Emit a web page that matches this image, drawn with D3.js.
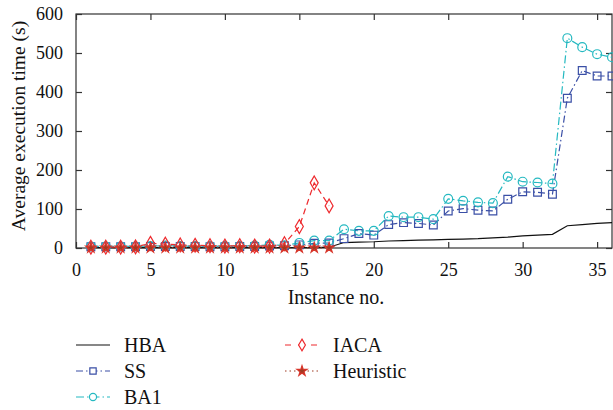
<!DOCTYPE html>
<html>
<head>
<meta charset="utf-8">
<script src="https://cdnjs.cloudflare.com/ajax/libs/d3/7.8.5/d3.min.js"></script>
<style>
  body { margin: 0; background: #fff; }
</style>
</head>
<body>
<div id="chart"></div>
<script>
// instances 1..36
var instances = d3.range(1, 37);

var hba = [1,1,1,1,1,1,1,1,1,1,1,1,1,1,1,1,2,
           14,15,16,18,19,20,21,22,23,24,26,28,31,33,35,57,60,63,65];
var ss = [3,3,3,3,4,4,4,4,3,3,4,4,5,6,8,12,13,
          24,37,33,60,65,63,59,95,101,97,95,125,144,143,138,384,455,441,441];
var ba1 = [4,4,4,4,5,6,5,5,5,5,5,6,8,7,13,19,19,
           48,44,44,82,79,79,74,126,121,117,115,183,170,168,165,538,515,497,489];
var iaca = [2,2,2,3,12,10,8,7,6,5,6,5,5,11,55,167,108];
var heuristic = [0.5,0.5,0.5,0.5,0.5,0.5,0.5,0.5,0.5,0.5,0.5,0.5,0.5,0.5,0.5,0.5,0.5];

var xTicks = [0,5,10,15,20,25,30,35];
var yTicks = [0,100,200,300,400,500,600];

var serif = '"Liberation Serif", "Times New Roman", serif';

var svgWidth = 613;
var svgHeight = 410;
var margin = {top: 14, right: 1, bottom: 162, left: 76};
var chartWidth = svgWidth - margin.left - margin.right;
var chartHeight = svgHeight - margin.top - margin.bottom;

var svg = d3.select("#chart").append("svg")
    .attr("width", svgWidth)
    .attr("height", svgHeight)
    .style("font-family", serif);

var chartGroup = svg.append("g").attr("transform", `translate(${margin.left}, ${margin.top})`);

var x = d3.scaleLinear().domain([0, 36]).range([0, chartWidth]);
var y = d3.scaleLinear().domain([0, 600]).range([chartHeight, 0]);

// series definitions
var series = [
  {name: "HBA", values: hba, color: "#111", dash: null, symbol: null},
  {name: "SS", values: ss, color: "#3a4fa6", dash: "7,3,1.5,3", symbol: d3.symbolSquare, size: 60},
  {name: "BA1", values: ba1, color: "#25b9c1", dash: "8,3,1.5,3", symbol: d3.symbolCircle, size: 62},
  {name: "IACA", values: iaca, color: "#ee2a2e", dash: "6,4", symbol: d3.symbolDiamond, size: 55},
  {name: "Heuristic", values: heuristic, color: "#9e3b22", dash: "1.5,3", symbol: d3.symbolStar, size: 32}
];

// frame
chartGroup.append("rect")
    .attr("width", chartWidth).attr("height", chartHeight)
    .attr("fill", "none").attr("stroke", "#333").attr("stroke-width", 1.2);

// axes with inward ticks
var bottomAxis = d3.axisBottom(x).tickValues(xTicks).tickSizeInner(-6).tickSizeOuter(0).tickPadding(15);
var leftAxis = d3.axisLeft(y).tickValues(yTicks).tickSizeInner(-6).tickSizeOuter(0).tickPadding(13);
var topAxis = d3.axisTop(x).tickValues(xTicks).tickSizeInner(-6).tickSizeOuter(0).tickFormat("");
var rightAxis = d3.axisRight(y).tickValues(yTicks).tickSizeInner(-6).tickSizeOuter(0).tickFormat("");

chartGroup.append("g").attr("transform", `translate(0, ${chartHeight})`).call(bottomAxis);
chartGroup.append("g").call(leftAxis);
chartGroup.append("g").call(topAxis);
chartGroup.append("g").attr("transform", `translate(${chartWidth}, 0)`).call(rightAxis);

chartGroup.selectAll(".domain").remove();
chartGroup.selectAll(".tick line").attr("stroke", "#333").attr("stroke-width", 1.2);
chartGroup.selectAll(".tick text")
    .style("font-size", "18px").style("font-family", serif).attr("fill", "#111");

// axis titles
chartGroup.append("text")
    .attr("x", 260).attr("y", chartHeight + 56)
    .attr("text-anchor", "middle")
    .style("font-size", "20px").style("font-family", serif).attr("fill", "#111")
    .text("Instance no.");

chartGroup.append("text")
    .attr("transform", `translate(${-51}, ${112}) rotate(-90)`)
    .attr("text-anchor", "middle")
    .style("font-size", "19.5px").style("font-family", serif).attr("fill", "#111")
    .text("Average execution time (s)");

// lines and markers
var line = d3.line().x((d, i) => x(i + 1)).y(d => y(d));

series.forEach(function(s) {
  chartGroup.append("path")
      .datum(s.values)
      .attr("fill", "none")
      .attr("stroke", s.color)
      .attr("stroke-width", 1.2)
      .attr("stroke-dasharray", s.dash)
      .attr("d", line);
});

series.forEach(function(s) {
  if (!s.symbol) return;
  var sym = d3.symbol().type(s.symbol).size(s.size);
  chartGroup.selectAll(null)
      .data(s.values)
      .enter()
      .append("path")
      .attr("transform", (d, i) => `translate(${x(i + 1)}, ${y(d)})`)
      .attr("d", sym)
      .attr("fill", s.name === "Heuristic" ? s.color : "none")
      .attr("stroke", s.name === "Heuristic" ? "#d8352a" : s.color)
      .attr("stroke-width", 1.2);
});

// legend
var legendItems = [
  {s: series[0], x: 76, y: 345},
  {s: series[1], x: 76, y: 371},
  {s: series[2], x: 76, y: 397},
  {s: series[3], x: 285, y: 345},
  {s: series[4], x: 285, y: 371}
];

legendItems.forEach(function(item) {
  var g = svg.append("g").attr("transform", `translate(${item.x}, ${item.y})`);
  var s = item.s;
  g.append("line")
      .attr("x1", 0).attr("x2", 34).attr("y1", 0).attr("y2", 0)
      .attr("stroke", s.color).attr("stroke-width", 1.2)
      .attr("stroke-dasharray", s.dash ? (s.name === "IACA" ? "6,7" : s.dash) : null);
  if (s.symbol) {
    g.append("path")
        .attr("transform", "translate(17, 0)")
        .attr("d", d3.symbol().type(s.symbol).size(s.name === "Heuristic" ? 32 : 40)())
        .attr("fill", s.name === "Heuristic" ? s.color : "#fff")
        .attr("stroke", s.name === "Heuristic" ? "#d8352a" : s.color)
        .attr("stroke-width", 1.2);
  }
  g.append("text")
      .attr("x", 48).attr("y", 6.5)
      .style("font-size", "20px").style("font-family", serif).attr("fill", "#111")
      .text(s.name);
});
</script>
</body>
</html>
